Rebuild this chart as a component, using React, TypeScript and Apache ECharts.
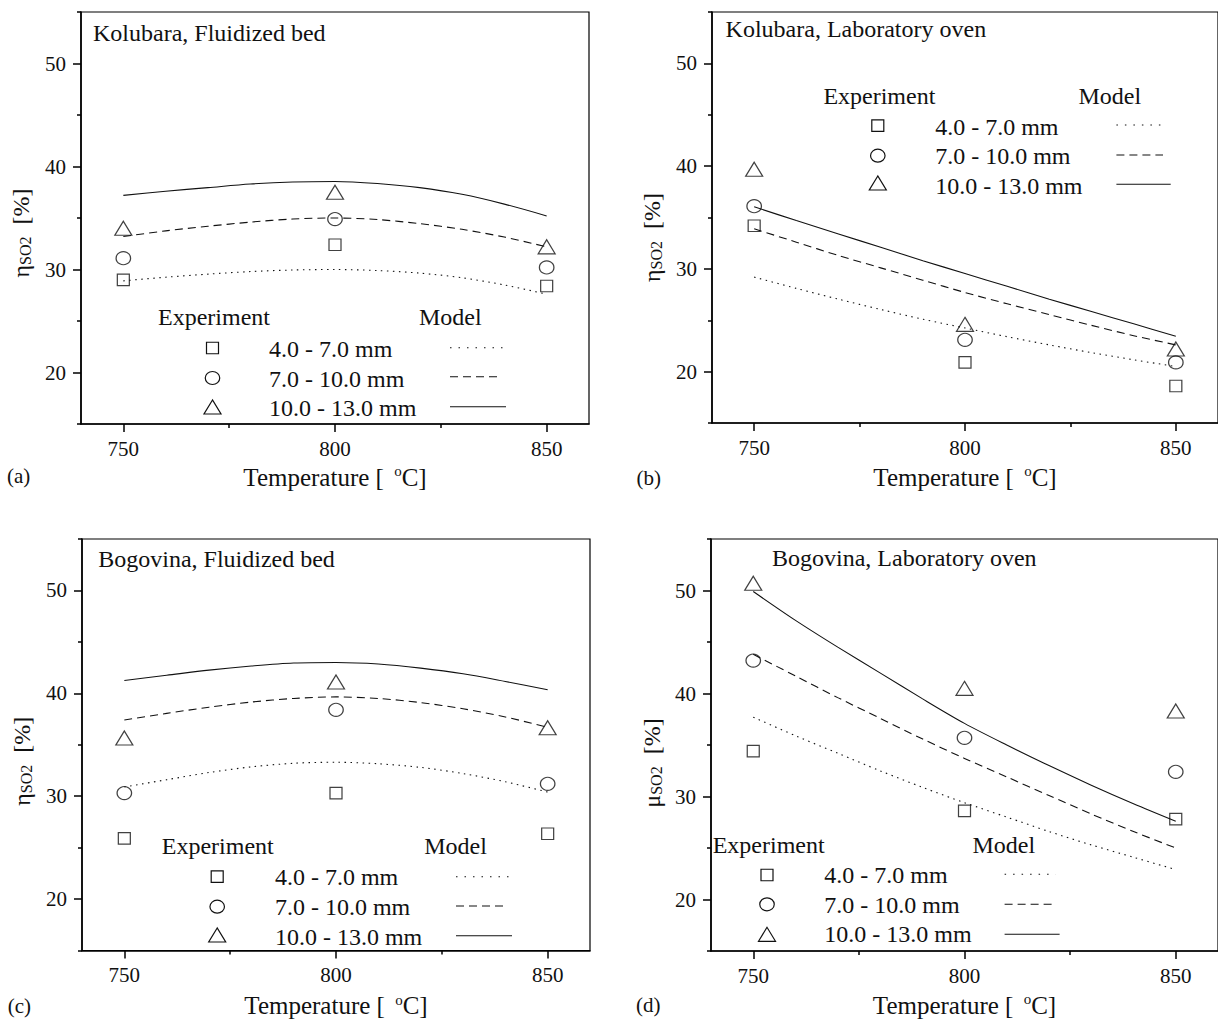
import React, { useEffect, useRef } from "react";
import * as echarts from "echarts";

// ---------- data ----------
const expTemps = [750, 800, 850];
const modelTemps = [750, 760, 770, 780, 790, 800, 810, 820, 830, 840, 850];
const sizeClasses = ["4.0 - 7.0 mm", "7.0 - 10.0 mm", "10.0 - 13.0 mm"];
const panelTitles = [
  "Kolubara, Fluidized bed",
  "Kolubara, Laboratory oven",
  "Bogovina, Fluidized bed",
  "Bogovina, Laboratory oven",
];
const panelLetters = ["(a)", "(b)", "(c)", "(d)"];
const yTickValues = [20, 30, 40, 50];
const yMinorTickValues = [15, 25, 35, 45, 55];
const xTickValues = [750, 800, 850];
const xMinorTickValues = [775, 825];

const aExpSmall = [29.0, 32.4, 28.4];
const aExpMedium = [31.1, 34.9, 30.2];
const aExpLarge = [34.0, 37.5, 32.2];
const aModelSmall = [28.9, 29.25, 29.55, 29.8, 29.95, 30.0, 29.9, 29.65, 29.2, 28.5, 27.6];
const aModelMedium = [33.2, 33.75, 34.2, 34.6, 34.9, 35.0, 34.85, 34.45, 33.9, 33.15, 32.2];
const aModelLarge = [37.2, 37.6, 37.95, 38.3, 38.5, 38.55, 38.35, 37.95, 37.3, 36.35, 35.2];

const bExpSmall = [34.2, 20.9, 18.6];
const bExpMedium = [36.1, 23.1, 20.9];
const bExpLarge = [39.7, 24.6, 22.2];
const bModelSmall = [29.2, 28.1, 27.05, 26.05, 25.1, 24.25, 23.4, 22.6, 21.85, 21.15, 20.5];
const bModelMedium = [33.9, 32.6, 31.3, 30.1, 28.9, 27.7, 26.6, 25.55, 24.5, 23.5, 22.6];
const bModelLarge = [36.05, 34.7, 33.4, 32.1, 30.8, 29.55, 28.3, 27.05, 25.85, 24.65, 23.45];

const cExpSmall = [25.9, 30.3, 26.35];
const cExpMedium = [30.3, 38.4, 31.2];
const cExpLarge = [35.65, 41.1, 36.65];
const cModelSmall = [30.9, 31.6, 32.3, 32.85, 33.2, 33.3, 33.15, 32.8, 32.2, 31.4, 30.4];
const cModelMedium = [37.4, 38.05, 38.65, 39.15, 39.5, 39.65, 39.5, 39.1, 38.5, 37.7, 36.7];
const cModelLarge = [41.25, 41.75, 42.25, 42.65, 42.95, 43.0, 42.85, 42.45, 41.9, 41.15, 40.35];

const dExpSmall = [34.4, 28.6, 27.8];
const dExpMedium = [43.2, 35.7, 32.4];
const dExpLarge = [50.7, 40.5, 38.3];
const dModelSmall = [37.7, 35.9, 34.2, 32.5, 30.9, 29.4, 28.0, 26.6, 25.3, 24.1, 22.9];
const dModelMedium = [43.8, 41.7, 39.6, 37.6, 35.6, 33.7, 31.9, 30.1, 28.3, 26.6, 25.0];
const dModelLarge = [49.9, 47.1, 44.5, 42.0, 39.5, 37.1, 35.0, 33.0, 31.1, 29.3, 27.6];

// ---------- styling / layout ----------
const FONT = "'Liberation Serif', 'Times New Roman', serif";
const INK = "#111";
const symbols = ["rect", "circle", "triangle"];
const symbolSizes: number[][] = [
  [12, 11.5],
  [14.5, 13],
  [17, 14],
];
const plotDashes: any[] = [[1.5, 4.5], [8, 5], "solid"];
const legendDashes: any[] = [[1.5, 7], [8, 5], null];

const panels = [
  {
    grid: { left: 81, top: 12, width: 508, height: 412 },
    exp: [aExpSmall, aExpMedium, aExpLarge],
    model: [aModelSmall, aModelMedium, aModelLarge],
    yName: "η{sub|SO2}  [%]",
    yShift: 15,
    yGap: 48,
    xGap: 40,
    title: [93, 33],
    letter: [7, 476],
    expHead: [158, 317],
    modelHead: [419, 317],
    markerX: 212.5,
    markerY: [348, 378, 407],
    textX: 269,
    textY: [348.6, 378.6, 408.4],
    lineX1: 450,
    lineX2: [503, 498, 506],
    lineY: [347.7, 376.7, 406.7],
  },
  {
    grid: { left: 712, top: 12, width: 506, height: 411 },
    exp: [bExpSmall, bExpMedium, bExpLarge],
    model: [bModelSmall, bModelMedium, bModelLarge],
    yName: "η{sub|SO2}  [%]",
    yShift: 20,
    yGap: 48,
    xGap: 41,
    title: [725.6, 29.2],
    letter: [636.4, 478.3],
    expHead: [823.4, 96],
    modelHead: [1078.4, 96],
    markerX: 877.8,
    markerY: [125.7, 155.7, 183],
    textX: 935.2,
    textY: [126.6, 155.8, 185.5],
    lineX1: 1116.4,
    lineX2: [1166.8, 1163, 1170.7],
    lineY: [125, 155, 184.3],
  },
  {
    grid: { left: 82, top: 539, width: 508, height: 414 },
    exp: [cExpSmall, cExpMedium, cExpLarge],
    model: [cModelSmall, cModelMedium, cModelLarge],
    yName: "η{sub|SO2}  [%]",
    yShift: 16.5,
    yGap: 48,
    xGap: 42,
    title: [98.2, 558.6],
    letter: [7.8, 1005.6],
    expHead: [161.8, 846],
    modelHead: [424.2, 846],
    markerX: 217.2,
    markerY: [876.7, 906.7, 935],
    textX: 274.9,
    textY: [876.9, 906.9, 936.9],
    lineX1: 456,
    lineX2: [508.8, 505, 512],
    lineY: [876.7, 906, 935.7],
  },
  {
    grid: { left: 711, top: 539, width: 507, height: 412 },
    exp: [dExpSmall, dExpMedium, dExpLarge],
    model: [dModelSmall, dModelMedium, dModelLarge],
    yName: "μ{sub|SO2}  [%]",
    yShift: 18,
    yGap: 47,
    xGap: 41,
    title: [772, 557.6],
    letter: [636, 1005],
    expHead: [712.7, 844.6],
    modelHead: [972.4, 844.6],
    markerX: 767,
    markerY: [875, 904.3, 934.3],
    textX: 824.3,
    textY: [874.6, 904.6, 934.2],
    lineX1: 1004.6,
    lineX2: [1055.7, 1051.9, 1059.6],
    lineY: [874.3, 904.3, 934.3],
  },
];

function textEl(x: number, y: number, text: string, fontSize: number) {
  return {
    type: "text",
    x,
    y,
    silent: true,
    z: 20,
    style: {
      text,
      fontSize,
      fontFamily: FONT,
      fill: INK,
      align: "left",
      verticalAlign: "middle",
    },
  };
}

function markerEl(k: number, cx: number, cy: number) {
  const [w, h] = symbolSizes[k];
  const style = { fill: "none", stroke: INK, lineWidth: 1.2 };
  if (k === 0) {
    return { type: "rect", silent: true, z: 20, shape: { x: cx - w / 2, y: cy - h / 2, width: w, height: h }, style };
  }
  if (k === 1) {
    return { type: "ellipse", silent: true, z: 20, shape: { cx, cy, rx: w / 2, ry: h / 2 }, style };
  }
  return {
    type: "polygon",
    silent: true,
    z: 20,
    shape: {
      points: [
        [cx, cy - h / 2],
        [cx - w / 2, cy + h / 2],
        [cx + w / 2, cy + h / 2],
      ],
    },
    style,
  };
}

function buildOption() {
  const grids: any[] = [];
  const xAxes: any[] = [];
  const yAxes: any[] = [];
  const series: any[] = [];
  const graphic: any[] = [];

  const tickLabel = { fontSize: 21, fontFamily: FONT, color: INK, lineHeight: 21 };

  panels.forEach((P, p) => {
    grids.push({
      ...P.grid,
      show: true,
      borderColor: "#000",
      borderWidth: 1.2,
      backgroundColor: "transparent",
      containLabel: false,
    });

    // major x axis
    xAxes.push({
      type: "value",
      gridIndex: p,
      position: "bottom",
      min: 740,
      max: 860,
      axisLine: { show: true, onZero: false, lineStyle: { color: "#000", width: 1.6 } },
      axisTick: { show: true, inside: false, length: 8, customValues: xTickValues, lineStyle: { color: "#000", width: 1.5 } },
      axisLabel: { show: true, customValues: xTickValues, margin: 14, ...tickLabel },
      splitLine: { show: false },
      name: "Temperature [ {sup|o}C]",
      nameLocation: "middle",
      nameGap: P.xGap,
      nameTextStyle: {
        fontSize: 25,
        fontFamily: FONT,
        color: INK,
        lineHeight: 26,
        rich: {
          sup: { fontSize: 15, lineHeight: 14, fontFamily: FONT, color: INK, padding: [0, 0, 12, 4] },
        },
      },
    });
    // minor x axis
    xAxes.push({
      type: "value",
      gridIndex: p,
      position: "bottom",
      min: 740,
      max: 860,
      axisLine: { show: false, onZero: false },
      axisTick: { show: true, inside: false, length: 4, customValues: xMinorTickValues, lineStyle: { color: "#000", width: 1.5 } },
      axisLabel: { show: false },
      splitLine: { show: false },
    });

    // major y axis
    yAxes.push({
      type: "value",
      gridIndex: p,
      position: "left",
      min: 15,
      max: 55,
      axisLine: { show: true, onZero: false, lineStyle: { color: "#000", width: 1.6 } },
      axisTick: { show: true, inside: false, length: 8, customValues: yTickValues, lineStyle: { color: "#000", width: 1.5 } },
      axisLabel: { show: true, customValues: yTickValues, margin: 15, ...tickLabel },
      splitLine: { show: false },
      name: P.yName,
      nameLocation: "middle",
      nameRotate: 90,
      nameGap: P.yGap,
      nameTextStyle: {
        fontSize: 24,
        fontFamily: FONT,
        color: INK,
        lineHeight: 25,
        padding: [0, P.yShift * 2, 0, 0],
        rich: {
          sub: { fontSize: 16, lineHeight: 16, fontFamily: FONT, color: INK, padding: [9, 0, 0, 0] },
        },
      },
    });
    // minor y axis
    yAxes.push({
      type: "value",
      gridIndex: p,
      position: "left",
      min: 15,
      max: 55,
      axisLine: { show: false, onZero: false },
      axisTick: { show: true, inside: false, length: 4, customValues: yMinorTickValues, lineStyle: { color: "#000", width: 1.5 } },
      axisLabel: { show: false },
      splitLine: { show: false },
    });

    for (let k = 0; k < 3; k++) {
      series.push({
        type: "line",
        name: `${panelTitles[p]} model ${sizeClasses[k]}`,
        xAxisIndex: 2 * p,
        yAxisIndex: 2 * p,
        data: modelTemps.map((t, i) => [t, P.model[k][i]]),
        showSymbol: false,
        symbol: "none",
        smooth: 0.3,
        silent: true,
        lineStyle: { color: INK, width: 1.1, type: plotDashes[k] },
        z: 2,
      });
      series.push({
        type: "scatter",
        name: `${panelTitles[p]} experiment ${sizeClasses[k]}`,
        xAxisIndex: 2 * p,
        yAxisIndex: 2 * p,
        data: expTemps.map((t, i) => [t, P.exp[k][i]]),
        symbol: symbols[k],
        symbolSize: symbolSizes[k],
        silent: true,
        itemStyle: { color: "rgba(255,255,255,0)", borderColor: INK, borderWidth: 1.2 },
        z: 3,
      });
    }

    // annotations: panel title, panel letter, legend
    graphic.push(textEl(P.title[0], P.title[1], panelTitles[p], 24));
    graphic.push(textEl(P.letter[0], P.letter[1], panelLetters[p], 21));
    graphic.push(textEl(P.expHead[0], P.expHead[1], "Experiment", 24));
    graphic.push(textEl(P.modelHead[0], P.modelHead[1], "Model", 24));
    for (let k = 0; k < 3; k++) {
      graphic.push(markerEl(k, P.markerX, P.markerY[k]));
      graphic.push(textEl(P.textX, P.textY[k], sizeClasses[k], 24));
      graphic.push({
        type: "line",
        silent: true,
        z: 20,
        shape: { x1: P.lineX1, y1: P.lineY[k], x2: P.lineX2[k], y2: P.lineY[k] },
        style: { stroke: INK, lineWidth: 1.1, lineDash: legendDashes[k] },
      });
    }
  });

  return {
    animation: false,
    backgroundColor: "#fff",
    textStyle: { fontFamily: FONT },
    grid: grids,
    xAxis: xAxes,
    yAxis: yAxes,
    series,
    graphic,
  };
}

export default function App() {
  const ref = useRef<HTMLDivElement>(null);
  useEffect(() => {
    if (!ref.current) return;
    const chart = echarts.init(ref.current, null, { renderer: "svg" });
    chart.setOption(buildOption() as any);
    return () => chart.dispose();
  }, []);
  return (
    <div
      ref={ref}
      style={{ position: "absolute", left: 0, top: 0, width: 1218, height: 1020, background: "#fff" }}
    />
  );
}
